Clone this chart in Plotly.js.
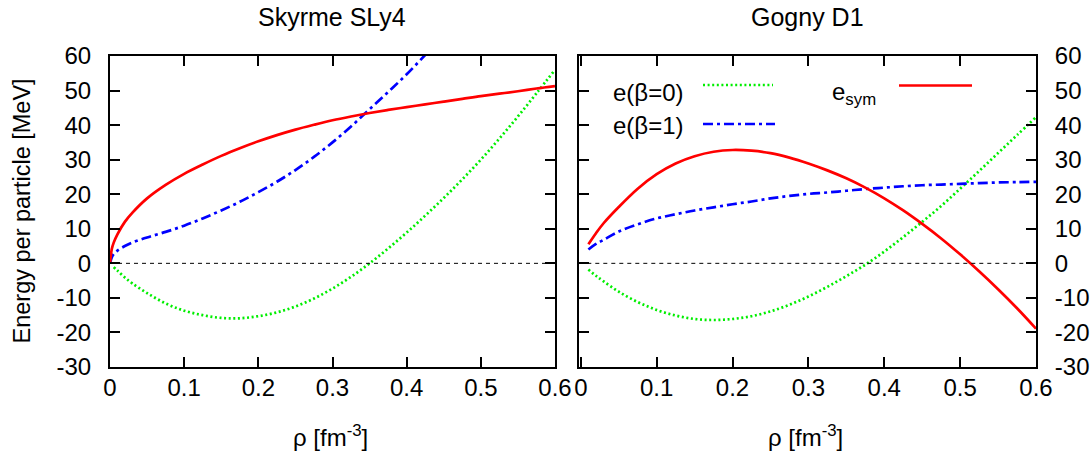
<!DOCTYPE html>
<html>
<head>
<meta charset="utf-8">
<script src="https://cdn.plot.ly/plotly-3.0.1.min.js"></script>
<style>html,body{margin:0;padding:0;background:#fff;}#chart{width:1092px;height:454px;}</style>
</head>
<body>
<div id="chart"></div>
<script>
// ---- Skyrme SLy4 (left panel) ----
var rhoSkyEsym = [0, 0.0025, 0.005, 0.01, 0.02, 0.03, 0.05, 0.075, 0.1, 0.125, 0.15, 0.175, 0.2, 0.225, 0.25, 0.275, 0.3, 0.325, 0.35, 0.375, 0.4, 0.425, 0.45, 0.475, 0.5, 0.525, 0.55, 0.575, 0.6];
var skyEsym    = [0, 4.2, 6.0, 8.4, 12.0, 14.6, 18.8, 22.7, 25.9, 28.6, 31.1, 33.3, 35.3, 37.1, 38.7, 40.1, 41.4, 42.5, 43.5, 44.4, 45.2, 46.0, 46.8, 47.6, 48.4, 49.1, 49.8, 50.6, 51.3];

var rhoSkyB1 = [0, 0.0025, 0.005, 0.01, 0.02, 0.03, 0.05, 0.075, 0.1, 0.125, 0.15, 0.175, 0.2, 0.225, 0.25, 0.275, 0.3, 0.325, 0.35, 0.375, 0.4, 0.425, 0.45];
var skyB1    = [0, 1.8, 2.7, 3.7, 5.0, 6.0, 7.5, 9.1, 10.9, 13.0, 15.3, 17.8, 20.6, 23.6, 27.0, 30.8, 35.0, 39.6, 44.6, 49.6, 54.7, 60.3, 66.0];

var rhoSkyB0 = [0.005, 0.01, 0.02, 0.03, 0.05, 0.075, 0.1, 0.125, 0.15, 0.175, 0.2, 0.225, 0.25, 0.275, 0.3, 0.325, 0.35, 0.375, 0.4, 0.425, 0.45, 0.475, 0.5, 0.525, 0.55, 0.575, 0.6];
var skyB0    = [-1.1, -2.1, -4.1, -5.8, -8.6, -11.6, -13.7, -15.0, -15.8, -15.9, -15.3, -14.2, -12.5, -10.2, -7.3, -3.9, 0.0, 4.3, 8.9, 13.8, 18.9, 24.3, 30.0, 36.1, 42.5, 49.2, 56.0];

// ---- Gogny D1 (right panel) ----
var rhoGog = [0.01, 0.02, 0.03, 0.05, 0.075, 0.1, 0.125, 0.15, 0.175, 0.2, 0.225, 0.25, 0.275, 0.3, 0.325, 0.35, 0.375, 0.4, 0.425, 0.45, 0.475, 0.5, 0.525, 0.55, 0.575, 0.6];
var gogEsym = [5.5, 8.7, 11.6, 16.3, 21.6, 25.8, 28.9, 31.0, 32.3, 32.8, 32.6, 31.9, 30.6, 28.9, 26.9, 24.6, 21.9, 18.8, 15.3, 11.4, 7.2, 2.6, -2.3, -7.5, -13.0, -18.9];
var gogB1   = [4.0, 5.6, 6.8, 9.2, 11.3, 13.0, 14.2, 15.3, 16.2, 17.1, 17.9, 18.8, 19.5, 20.1, 20.5, 21.0, 21.5, 21.9, 22.3, 22.6, 22.8, 23.0, 23.2, 23.4, 23.5, 23.6];
var gogB0   = [-1.8, -3.6, -5.2, -8.2, -11.2, -13.5, -15.1, -16.1, -16.4, -16.1, -15.3, -13.9, -12.0, -9.6, -6.8, -3.7, -0.4, 3.4, 7.6, 12.0, 16.6, 21.6, 26.7, 31.9, 37.1, 42.3];

var xTicks = [0, 0.1, 0.2, 0.3, 0.4, 0.5, 0.6];
var xTickText = ['0', '0.1', '0.2', '0.3', '0.4', '0.5', '0.6'];
var yTicks = [-30, -20, -10, 0, 10, 20, 30, 40, 50, 60];
var yTickText = ['-30', '-20', '-10', '0', '10', '20', '30', '40', '50', '60'];
var panelTitles = ['Skyrme SLy4', 'Gogny D1'];
var axisTitleX = 'ρ [fm<sup>-3</sup>]';
var axisTitleY = 'Energy per particle [MeV]';
var legendLabels = ['e(β=0)', 'e(β=1)', 'e<sub>sym</sub>'];

var RED = '#ff0000', GREEN = '#00ee00', BLUE = '#0000ff';
var DOT = '2px,2.6px', DASHDOT = '10px,4px,3px,4px';

function tr(x, y, xa, ya, color, dash, name) {
  return {x: x, y: y, xaxis: xa, yaxis: ya, type: 'scatter', mode: 'lines', name: name,
          line: {color: color, width: 2.7, dash: dash, shape: 'spline', smoothing: 1},
          showlegend: false, hoverinfo: 'skip'};
}

var data = [
  tr(rhoSkyB0, skyB0, 'x', 'y', GREEN, DOT, 'b0'),
  tr(rhoSkyB1, skyB1, 'x', 'y', BLUE, DASHDOT, 'b1'),
  tr(rhoSkyEsym, skyEsym, 'x', 'y', RED, 'solid', 'esym'),
  tr(rhoGog, gogB0, 'x2', 'y2', GREEN, DOT, 'b0'),
  tr(rhoGog, gogB1, 'x2', 'y2', BLUE, DASHDOT, 'b1'),
  tr(rhoGog, gogEsym, 'x2', 'y2', RED, 'solid', 'esym')
];

var W = 1092, H = 454;
function px(v) { return v / W; }
function py(v) { return 1 - v / H; }

var FONT = 'Liberation Sans, Arial, Helvetica, sans-serif';
var tickFont = {family: FONT, size: 24, color: '#000'};

var axCommon = {
  showline: true, linecolor: '#000', linewidth: 2, mirror: 'allticks',
  ticks: 'inside', ticklen: 10, tickwidth: 2, tickcolor: '#000',
  showgrid: false, zeroline: false, tickfont: tickFont, fixedrange: true
};

function merge(a, b) { var o = {}; for (var k in a) o[k] = a[k]; for (var k2 in b) o[k2] = b[k2]; return o; }

var yTop = 56, yBot = 367;
var layout = {
  width: W, height: H,
  margin: {l: 0, r: 0, t: 0, b: 0, autoexpand: false},
  paper_bgcolor: '#fff', plot_bgcolor: '#fff',
  showlegend: false,
  xaxis: merge(axCommon, {domain: [px(110), px(555)], range: [0, 0.6], tickvals: xTicks, ticktext: xTickText, anchor: 'y', ticklabelstandoff: -2}),
  yaxis: merge(axCommon, {domain: [py(yBot), py(yTop)], range: [-30, 60], tickvals: yTicks, ticktext: yTickText, anchor: 'x', ticklabelstandoff: 12}),
  xaxis2: merge(axCommon, {domain: [px(579.3), px(1036)], range: [-0.002, 0.6], tickvals: xTicks, ticktext: xTickText, anchor: 'y2', ticklabelstandoff: -2}),
  yaxis2: merge(axCommon, {domain: [py(yBot), py(yTop)], range: [-30, 60], tickvals: yTicks, ticktext: yTickText, anchor: 'x2', side: 'right', ticklabelstandoff: 12}),
  shapes: [
    {type: 'line', xref: 'x domain', yref: 'y', x0: 0, x1: 1, y0: 0, y1: 0, line: {color: '#000', width: 1, dash: '4px,4px'}},
    {type: 'line', xref: 'x2 domain', yref: 'y2', x0: 0, x1: 1, y0: 0, y1: 0, line: {color: '#000', width: 1, dash: '4px,4px'}},
    // legend samples
    {type: 'line', xref: 'paper', yref: 'paper', x0: px(703), x1: px(773), y0: py(85), y1: py(85), line: {color: GREEN, width: 2.7, dash: DOT}},
    {type: 'line', xref: 'paper', yref: 'paper', x0: px(703), x1: px(775), y0: py(124), y1: py(124), line: {color: BLUE, width: 2.7, dash: DASHDOT}},
    {type: 'line', xref: 'paper', yref: 'paper', x0: px(899), x1: px(972), y0: py(85.5), y1: py(85.5), line: {color: RED, width: 2.7}}
  ],
  annotations: [
    {text: panelTitles[0], xref: 'paper', yref: 'paper', x: px(332.5), y: py(17), xanchor: 'center', yanchor: 'middle', showarrow: false, font: {family: FONT, size: 25, color: '#000'}},
    {text: panelTitles[1], xref: 'paper', yref: 'paper', x: px(807.7), y: py(17), xanchor: 'center', yanchor: 'middle', showarrow: false, font: {family: FONT, size: 25, color: '#000'}},
    {text: axisTitleX, xref: 'paper', yref: 'paper', x: px(330), y: py(436), xanchor: 'center', yanchor: 'middle', showarrow: false, font: {family: FONT, size: 24, color: '#000'}},
    {text: axisTitleX, xref: 'paper', yref: 'paper', x: px(805.5), y: py(436), xanchor: 'center', yanchor: 'middle', showarrow: false, font: {family: FONT, size: 24, color: '#000'}},
    {text: axisTitleY, xref: 'paper', yref: 'paper', x: px(21), y: py(211.5), xanchor: 'center', yanchor: 'middle', textangle: -90, showarrow: false, font: {family: FONT, size: 23.5, color: '#000'}},
    {text: legendLabels[0], xref: 'paper', yref: 'paper', x: px(611), y: py(92), xanchor: 'left', yanchor: 'middle', showarrow: false, font: {family: FONT, size: 24, color: '#000'}},
    {text: legendLabels[1], xref: 'paper', yref: 'paper', x: px(611), y: py(125), xanchor: 'left', yanchor: 'middle', showarrow: false, font: {family: FONT, size: 24, color: '#000'}},
    {text: legendLabels[2], xref: 'paper', yref: 'paper', x: px(830), y: py(93), xanchor: 'left', yanchor: 'middle', showarrow: false, font: {family: FONT, size: 24, color: '#000'}}
  ]
};

Plotly.newPlot('chart', data, layout, {staticPlot: true, displayModeBar: false});
</script>
</body>
</html>
